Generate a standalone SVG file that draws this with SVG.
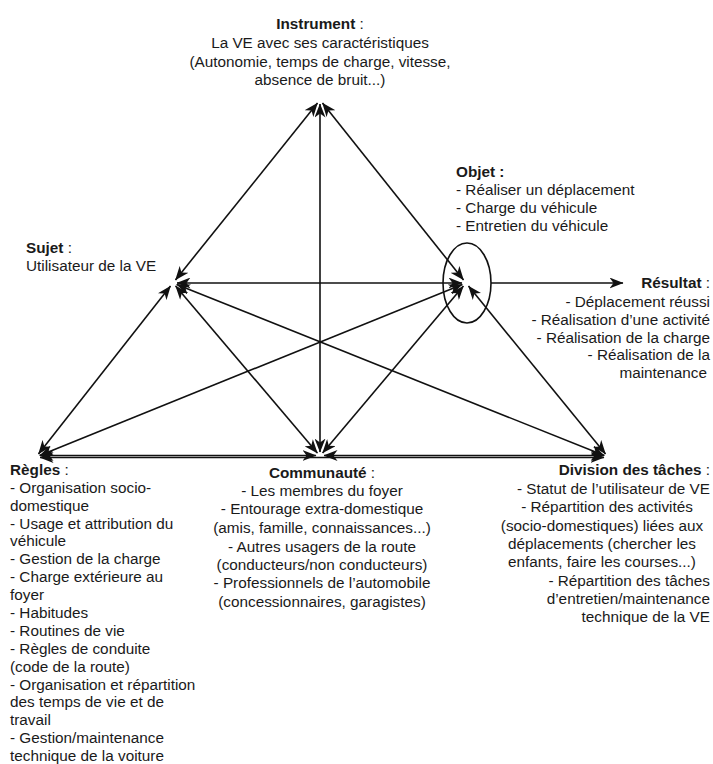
<svg xmlns="http://www.w3.org/2000/svg" width="713" height="764" viewBox="0 0 713 764">
<style>
text{font-family:"Liberation Sans",Arial,sans-serif;font-size:15.3px;fill:#1a1a1a}
.b{font-weight:bold}
.m{text-anchor:middle}
.e{text-anchor:end}
.c line{stroke:#111;stroke-width:1.6;marker-start:url(#a);marker-end:url(#a)}
</style>
<defs>
<marker id="a" viewBox="0 0 14 11" refX="13.5" refY="5.5" markerWidth="14" markerHeight="11" orient="auto-start-reverse" markerUnits="userSpaceOnUse">
<path d="M0,0 L14,5.5 L0,11 L4,5.5 z" fill="#111"/>
</marker>
</defs>
<rect width="713" height="764" fill="#fff"/>
<g id="connectors" class="c">
<line x1="317.5" y1="103.1" x2="175.5" y2="279.9"/>
<line x1="320" y1="104" x2="320" y2="452"/>
<line x1="322.5" y1="103.1" x2="463.5" y2="279.9"/>
<line x1="177" y1="283" x2="462" y2="283"/>
<line x1="170.5" y1="286.1" x2="38.5" y2="453.9"/>
<line x1="175.6" y1="286" x2="317.4" y2="453"/>
<line x1="176.7" y1="284.5" x2="604.3" y2="455.5"/>
<line x1="39.7" y1="455.5" x2="462.3" y2="284.5"/>
<line x1="40" y1="455.5" x2="316" y2="455.5"/>
<line x1="324" y1="455.5" x2="604" y2="455.5"/>
<line x1="40" y1="457.5" x2="604" y2="457.5"/>
<line x1="322.6" y1="452.9" x2="463.4" y2="286.1"/>
<line x1="468.5" y1="286.1" x2="605.5" y2="453.9"/>
<line x1="491" y1="283" x2="623" y2="283" style="marker-start:none"/>
</g>
<g id="instrument">
<text class="m" x="320" y="29"><tspan class="b">Instrument</tspan> :</text>
<text class="m" x="320" y="48">La VE avec ses caractéristiques</text>
<text class="m" x="320" y="67">(Autonomie, temps de charge, vitesse,</text>
<text class="m" x="320" y="85">absence de bruit...)</text>
</g>
<g id="objet">
<ellipse cx="467" cy="283" rx="24" ry="40" fill="none" stroke="#111" stroke-width="1.6"/>
<text class="b" x="456" y="177">Objet :</text>
<text x="456" y="195">- Réaliser un déplacement</text>
<text x="456" y="213">- Charge du véhicule</text>
<text x="456" y="231">- Entretien du véhicule</text>
</g>
<g id="sujet">
<text x="26" y="253"><tspan class="b">Sujet</tspan> :</text>
<text x="26" y="271">Utilisateur de la VE</text>
</g>
<g id="resultat">
<text class="e" x="710" y="288"><tspan class="b">Résultat</tspan> :</text>
<text class="e" x="710" y="307">- Déplacement réussi</text>
<text class="e" x="710" y="325">- Réalisation d’une activité</text>
<text class="e" x="710" y="343">- Réalisation de la charge</text>
<text class="e" x="710" y="360">- Réalisation de la</text>
<text class="e" x="707" y="378">maintenance</text>
</g>
<g id="regles">
<text x="10" y="475"><tspan class="b">Règles</tspan> :</text>
<text x="10" y="493">- Organisation socio-</text>
<text x="10" y="511">domestique</text>
<text x="10" y="529">- Usage et attribution du</text>
<text x="10" y="546">véhicule</text>
<text x="10" y="564">- Gestion de la charge</text>
<text x="10" y="582">- Charge extérieure au</text>
<text x="10" y="600">foyer</text>
<text x="10" y="618">- Habitudes</text>
<text x="10" y="636">- Routines de vie</text>
<text x="10" y="654">- Règles de conduite</text>
<text x="10" y="672">(code de la route)</text>
<text x="10" y="690">- Organisation et répartition</text>
<text x="10" y="707">des temps de vie et de</text>
<text x="10" y="725">travail</text>
<text x="10" y="743">- Gestion/maintenance</text>
<text x="10" y="761">technique de la voiture</text>
</g>
<g id="communaute">
<text class="m" x="322" y="478"><tspan class="b">Communauté</tspan> :</text>
<text class="m" x="322" y="496">- Les membres du foyer</text>
<text class="m" x="322" y="514">- Entourage extra-domestique</text>
<text class="m" x="322" y="533">(amis, famille, connaissances...)</text>
<text class="m" x="322" y="552">- Autres usagers de la route</text>
<text class="m" x="322" y="570">(conducteurs/non conducteurs)</text>
<text class="m" x="322" y="588">- Professionnels de l’automobile</text>
<text class="m" x="322" y="607">(concessionnaires, garagistes)</text>
</g>
<g id="division">
<text class="e" x="710" y="475"><tspan class="b">Division des tâches</tspan> :</text>
<text class="e" x="710" y="494">- Statut de l’utilisateur de VE</text>
<text class="m" x="607" y="512">- Répartition des activités</text>
<text class="m" x="602" y="531">(socio-domestiques) liées aux</text>
<text class="m" x="602" y="549">déplacements (chercher les</text>
<text class="m" x="602" y="567">enfants, faire les courses...)</text>
<text class="e" x="710" y="586">- Répartition des tâches</text>
<text class="e" x="710" y="604">d’entretien/maintenance</text>
<text class="e" x="710" y="622">technique de la VE</text>
</g>
</svg>
